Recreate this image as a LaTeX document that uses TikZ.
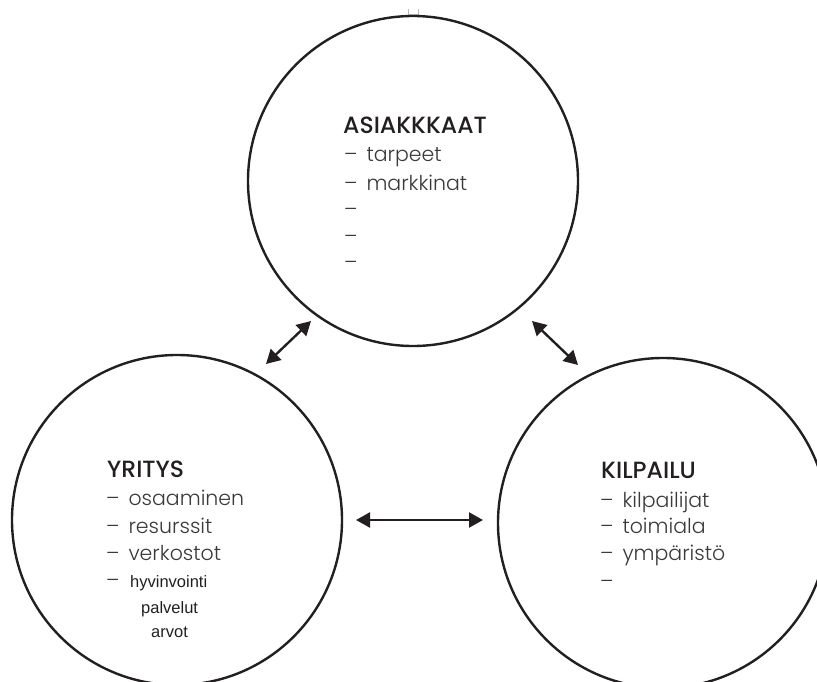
\documentclass[tikz,border=0pt]{standalone}
\usepackage{fontspec}
\setmainfont{Poppins}[UprightFont=* Light, BoldFont=* Medium]
\newfontfamily\arialfont{Liberation Sans}
\usetikzlibrary{arrows.meta}
\definecolor{lineDark}{HTML}{231F20}
\definecolor{textGray}{HTML}{3A3A3A}

\tikzset{
  ring/.style={circle, draw=lineDark, line width=2.4pt, minimum size=330pt, inner sep=0pt},
  heading/.style={anchor=base west, inner sep=0pt, text=lineDark, font=\fontsize{23.5}{25}\bfseries},
  item/.style={anchor=base west, inner sep=0pt, text=textGray, font=\fontsize{20.5}{22}\selectfont},
  smallitem/.style={anchor=base west, inner sep=0pt, text=lineDark, font=\arialfont\fontsize{16.5}{18}\selectfont},
  twoway/.style={{Triangle[length=14pt,width=15pt]}-{Triangle[length=14pt,width=15pt]}, line width=2.4pt, lineDark}
}

\begin{document}
\begin{tikzpicture}[x=1pt, y=-1pt]

    \useasboundingbox (0,0) rectangle (817,682);
    \clip (0,0) rectangle (817,682);

    % small mark above the top circle
    \draw[gray!55, line width=0.9pt] (408,9) -- (408,14.5) -- (418,14.5) -- (418,9);

    % the three circles
    \node[ring] (asiakkaat) at (413,181) {};
    \node[ring] (yritys) at (177,520) {};
    \node[ring] (kilpailu) at (663,523) {};

    % ASIAKKKAAT
    \node[heading] (asiakkaatTitle) at (343,134) {ASIAKKKAAT};
    \node[item] (tarpeet) at (344,162) {–\, tarpeet};
    \node[item] (markkinat) at (344,190) {–\, markkinat};
    \node[item] (tyhjaA) at (344,216) {–};
    \node[item] (tyhjaB) at (344,243) {–};
    \node[item] (tyhjaC) at (344,269) {–};

    % YRITYS
    \node[heading] (yritysTitle) at (107,477) {YRITYS};
    \node[item] (osaaminen) at (106,505) {–\, osaaminen};
    \node[item] (resurssit) at (106,533) {–\, resurssit};
    \node[item] (verkostot) at (106,560) {–\, verkostot};
    \node[item] (hyvViiva) at (106,587) {–};
    \node[smallitem] (hyvinvointi) at (130,587) {hyvinvointi};
    \node[smallitem] (palvelut) at (141,613) {palvelut};
    \node[smallitem] (arvot) at (151,637) {arvot};

    % KILPAILU
    \node[heading] (kilpailuTitle) at (601,478) {KILPAILU};
    \node[item] (kilpailijat) at (600,507) {–\, kilpailijat};
    \node[item] (toimiala) at (600,533) {–\, toimiala};
    \node[item] (ymparisto) at (600,560) {–\, ympäristö};
    \node[item] (tyhjaD) at (600,588) {–};

    % arrows between the circles
    \coordinate (vasenAla) at (266,364);
    \coordinate (vasenYla) at (311,321);
    \coordinate (oikeaYla) at (532,321);
    \coordinate (oikeaAla) at (578,365);
    \coordinate (keskiVasen) at (356,520);
    \coordinate (keskiOikea) at (483,520);
    \draw[twoway] (vasenAla) -- (vasenYla);
    \draw[twoway] (oikeaYla) -- (oikeaAla);
    \draw[twoway] (keskiVasen) -- (keskiOikea);

\end{tikzpicture}
\end{document}
